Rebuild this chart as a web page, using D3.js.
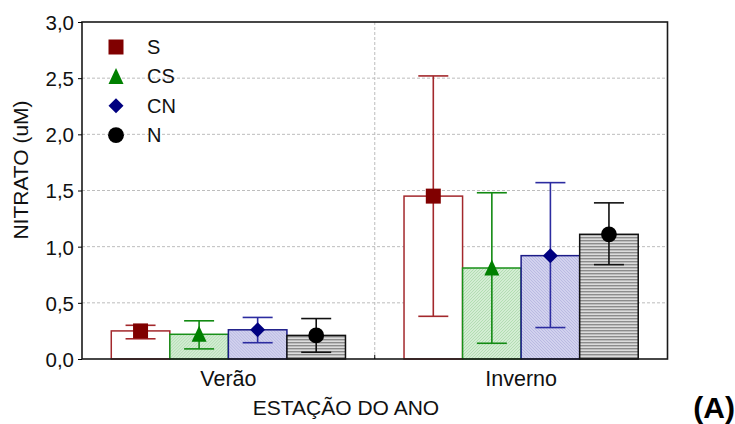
<!DOCTYPE html>
<html><head><meta charset="utf-8">
<script src="https://cdn.jsdelivr.net/npm/d3@7"></script>
<style>body{margin:0;background:#fff}svg{font-family:Arial,"Liberation Sans",sans-serif}</style>
</head><body><svg id="c" width="735" height="424"></svg>
<script>
const seasons = ["Verão", "Inverno"];
const series = ["S", "CS", "CN", "N"];
const means = {S: [0.25, 1.45], CS: [0.22, 0.81], CN: [0.26, 0.92], N: [0.21, 1.11]};
const upper = {S: [0.30, 2.52], CS: [0.34, 1.48], CN: [0.37, 1.57], N: [0.36, 1.39]};
const lower = {S: [0.18, 0.38], CS: [0.09, 0.14], CN: [0.145, 0.28], N: [0.06, 0.84]};
const yTicks = [0, 0.5, 1.0, 1.5, 2.0, 2.5, 3.0];
const lineColors = {S: "#a3282c", CS: "#128a12", CN: "#2c2ca0", N: "#111"};
const barStroke = {S: "#a3282c", CS: "#189018", CN: "#1c1c88", N: "#111"};
const markerColors = {S: "#800000", CS: "#008000", CN: "#000080", N: "#000"};

// custom marker paths (half-size h)
function marker(s, h) {
  if (s === "S") return `M${-h},${-h}H${h}V${h}H${-h}Z`;
  if (s === "CS") return `M0,${-h - 1}L${h},${h}L${-h},${h}Z`;
  if (s === "CN") return `M0,${-h}L${h},0L0,${h}L${-h},0Z`;
  return d3.arc()({innerRadius: 0, outerRadius: h + 0.4, startAngle: 0, endAngle: 2 * Math.PI});
}

const svg = d3.select("#c");
const L = 82, R = 667.5, T = 22, B = 359;
const x0 = d3.scaleBand().domain(seasons).range([L, R]);
const x1 = d3.scaleBand().domain(series).range([0, x0.bandwidth() * 0.8]);
const y = d3.scaleLinear().domain([0, 3]).range([B, T]);

const defs = svg.append("defs");
const pg = defs.append("pattern").attr("id", "pCS").attr("patternUnits", "userSpaceOnUse").attr("width", 3).attr("height", 3);
pg.append("rect").attr("width", 3).attr("height", 3).attr("fill", "#d4edd4");
pg.append("path").attr("d", "M0,3L3,0").attr("stroke", "#a9d9a9").attr("stroke-width", 0.8);
const pb = defs.append("pattern").attr("id", "pCN").attr("patternUnits", "userSpaceOnUse").attr("width", 3).attr("height", 3);
pb.append("rect").attr("width", 3).attr("height", 3).attr("fill", "#d2d2ee");
pb.append("path").attr("d", "M0,0L3,3").attr("stroke", "#b3b3de").attr("stroke-width", 0.8);
const pn = defs.append("pattern").attr("id", "pN").attr("patternUnits", "userSpaceOnUse").attr("width", 4).attr("height", 3);
pn.append("rect").attr("width", 4).attr("height", 3).attr("fill", "#dcdcdc");
pn.append("rect").attr("width", 4).attr("height", 1.4).attr("fill", "#8c8c8c");
const fills = {S: "#fff", CS: "url(#pCS)", CN: "url(#pCN)", N: "url(#pN)"};

// grid
svg.append("g").selectAll("line").data(yTicks.filter(t => t > 0 && t < 3)).join("line")
  .attr("x1", L).attr("x2", R).attr("y1", d => y(d)).attr("y2", d => y(d))
  .attr("stroke", "#bdbdbd").attr("stroke-dasharray", "3,2");
svg.append("line").attr("x1", (L + R) / 2).attr("x2", (L + R) / 2).attr("y1", T).attr("y2", B)
  .attr("stroke", "#bdbdbd").attr("stroke-dasharray", "3,2");

// bars
const groups = svg.append("g").selectAll("g").data(seasons).join("g")
  .attr("transform", d => `translate(${x0(d) + x0.bandwidth() * 0.1},0)`);
series.forEach(s => {
  groups.append("rect")
    .attr("x", x1(s)).attr("width", x1.bandwidth())
    .attr("y", (d, i) => y(means[s][i])).attr("height", (d, i) => B - y(means[s][i]))
    .attr("fill", fills[s]).attr("stroke", barStroke[s]).attr("stroke-width", 1.5);
});
// error bars + markers
series.forEach(s => {
  const cx = x1(s) + x1.bandwidth() / 2;
  const g = groups.append("g");
  g.append("line").attr("x1", cx).attr("x2", cx)
    .attr("y1", (d, i) => y(upper[s][i])).attr("y2", (d, i) => y(lower[s][i]))
    .attr("stroke", lineColors[s]).attr("stroke-width", 1.6);
  [upper, lower].forEach(arr => {
    g.append("line").attr("x1", cx - 15).attr("x2", cx + 15)
      .attr("y1", (d, i) => y(arr[s][i])).attr("y2", (d, i) => y(arr[s][i]))
      .attr("stroke", lineColors[s]).attr("stroke-width", 1.6);
  });
  g.append("path").attr("d", marker(s, 7.5))
    .attr("transform", (d, i) => `translate(${cx},${y(means[s][i])})`)
    .attr("fill", markerColors[s]);
});

// frame
svg.append("rect").attr("x", L).attr("y", T).attr("width", R - L).attr("height", B - T)
  .attr("fill", "none").attr("stroke", "#1a1a1a").attr("stroke-width", 1.6);

// y axis
const ya = svg.append("g").attr("transform", `translate(${L},0)`)
  .call(d3.axisLeft(y).tickValues(yTicks).tickSize(4).tickPadding(4)
    .tickFormat(d => d3.format(".1f")(d).replace(".", ",")));
ya.select(".domain").remove();
ya.selectAll("text").attr("font-size", 20.5).attr("fill", "#111").attr("dy", "0.36em")
  .attr("font-family", "Arial,'Liberation Sans',sans-serif");
ya.selectAll("line").attr("stroke", "#000");

// x axis
const xa = svg.append("g").attr("transform", `translate(0,${B})`)
  .call(d3.axisBottom(x0).tickSize(0).tickPadding(12));
xa.select(".domain").remove();
xa.selectAll("text").attr("font-size", 21.5).attr("fill", "#111")
  .attr("font-family", "Arial,'Liberation Sans',sans-serif");
svg.append("line").attr("x1", (L + R) / 2).attr("x2", (L + R) / 2).attr("y1", B).attr("y2", B - 4).attr("stroke", "#000");

svg.append("text").attr("x", 346).attr("y", 415).attr("text-anchor", "middle")
  .attr("font-size", 21).attr("fill", "#111").text("ESTAÇÃO DO ANO");
svg.append("text").attr("transform", `translate(28,170) rotate(-90)`).attr("text-anchor", "middle")
  .attr("font-size", 21).attr("fill", "#111").text("NITRATO (uM)");
svg.append("text").attr("x", 735).attr("y", 418).attr("text-anchor", "end")
  .attr("font-size", 30).attr("font-weight", "bold").attr("fill", "#000").text("(A)");

// legend
const lg = svg.append("g").selectAll("g").data(series).join("g")
  .attr("transform", (d, i) => `translate(116,${47 + i * 29.4})`);
lg.append("path").attr("d", s => marker(s, 7.5)).attr("fill", s => markerColors[s]);
lg.append("text").attr("x", 31).attr("y", 7).attr("font-size", 20).attr("fill", "#111").text(d => d);
</script></body></html>
